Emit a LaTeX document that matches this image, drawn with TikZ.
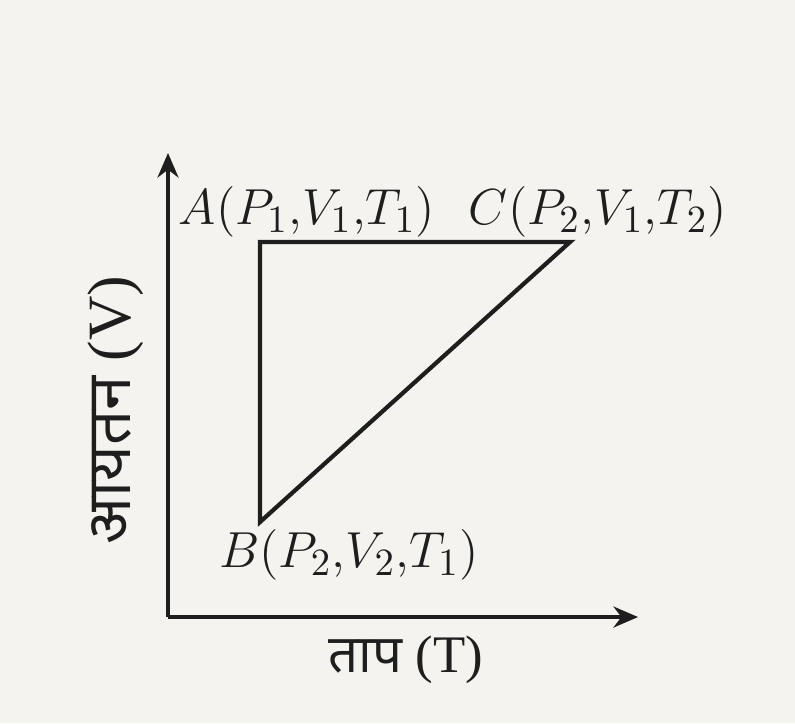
\documentclass[tikz,border=0pt]{standalone}
\usepackage{fontspec}
\setmainfont{Liberation Serif}
\newfontfamily\devfont[Script=Devanagari]{Noto Sans}
\usetikzlibrary{arrows.meta}
\definecolor{bgc}{HTML}{F4F3EF}
\definecolor{ink}{HTML}{1E1E1E}
\tikzset{
  axisline/.style={draw=ink, line width=0.9pt, -{Stealth[length=7pt,width=6pt]}},
  edgeline/.style={draw=ink, line width=1.2pt, line join=miter},
  ptlabel/.style={text=ink, font=\fontsize{15}{18}\selectfont, inner sep=0pt},
  axlabel/.style={text=ink, font=\fontsize{15}{18}\selectfont, inner sep=0pt}
}
\begin{document}
\begin{tikzpicture}[x=0.01cm,y=-0.01cm]
\fill[bgc] (0,0) rectangle (795,723);
\useasboundingbox (0,0) rectangle (795,723);
\coordinate (O) at (168,617);
\coordinate (Ytop) at (168,153);
\coordinate (Xend) at (638,617);
\draw[axisline] (O) -- (Ytop);
\draw[axisline] (O) -- (Xend);
\coordinate (A) at (260,242);
\coordinate (C) at (570,242);
\coordinate (B) at (260,522);
\draw[edgeline] (B) -- (A) -- (C) -- cycle;
\node[ptlabel] (la) at (307,212) {$A(P_1{,}V_1{,}T_1)$};
\node[ptlabel] (lc) at (598,212) {$C(P_2{,}V_1{,}T_2)$};
\node[ptlabel] (lb) at (349,555) {$B(P_2{,}V_2{,}T_1)$};
\node[axlabel, rotate=90, font=\fontsize{17.5}{20}\selectfont] (ly) at (116,410) {{\devfont आयतन} (V)};
\node[axlabel] (lx) at (406,660) {{\devfont ताप} (T)};
\end{tikzpicture}
\end{document}
